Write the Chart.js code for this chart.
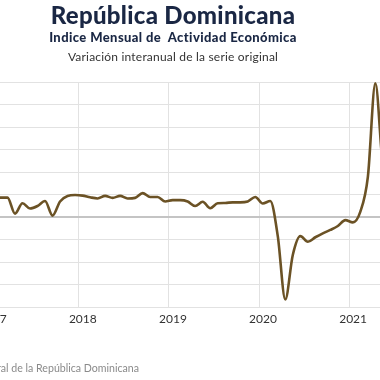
<!DOCTYPE html>
<html><head><meta charset="utf-8">
<script src="https://cdn.jsdelivr.net/npm/chart.js@4.4.1/dist/chart.umd.min.js"></script>
<style>
html,body{margin:0;padding:0;width:380px;height:380px;overflow:hidden;background:#fff;}
#wrap{position:absolute;left:-40px;top:0;width:460px;height:380px;}
.t{position:absolute;left:0;width:346px;text-align:center;white-space:nowrap;color:#1a2744;font-family:Lato,"Open Sans",sans-serif;}
#t1{top:0px;font-size:24px;font-weight:900;letter-spacing:0.3px;}
#t2{top:29px;font-size:13px;font-weight:900;letter-spacing:0.4px;}
#t3{top:49px;font-size:12px;color:#333;letter-spacing:0.2px;}
#src{position:absolute;right:241px;top:362px;font-size:10.6px;color:#8a8a8a;font-family:Lato,sans-serif;white-space:nowrap;}
</style></head><body>
<div id="wrap"><canvas id="c" width="460" height="380"></canvas></div>
<div class="t" id="t1">República Dominicana</div>
<div class="t" id="t2">Indice Mensual de&nbsp; Actividad Económica</div>
<div class="t" id="t3">Variación interanual de la serie original</div>
<div id="src">Fuente: Banco Central de la República Dominicana</div>
<script>
const startYear = 2017;
const months = ["Ene","Feb","Mar","Abr","May","Jun","Jul","Ago","Sep","Oct","Nov","Dic"];
const yearTicks = [2017, 2018, 2019, 2020, 2021];
const v2017 = [5.7, 6.9, 6.9, 1.2, 4.9, 3.0, 3.9, 5.7, 0.5, 5.5, 7.5, 7.8];
const v2018 = [7.6, 7.0, 6.6, 7.5, 6.8, 7.5, 6.6, 6.8, 8.5, 7.1, 7.1, 5.5];
const v2019 = [6.0, 6.0, 5.5, 3.9, 5.4, 3.1, 4.9, 5.0, 5.2, 5.2, 5.5, 7.1];
const v2020 = [4.8, 5.7, -6.8, -29.3, -13.5, -6.8, -8.8, -7.2, -5.8, -4.6, -3.2, -1.1];
const v2021 = [-1.9, 1.9, 14.3, 47.5, 18.5, 13.0];

const series = [v2017, v2018, v2019, v2020, v2021];
const points = [];
series.forEach((arr, yi) => arr.forEach((v, mi) => {
  points.push({x: startYear + yi + (mi + 0.5) / 12, y: v, label: months[mi] + " " + (startYear + yi)});
}));

new Chart(document.getElementById('c'), {
  type: 'line',
  data: { datasets: [{ data: points, borderColor: '#6b5225', borderWidth: 2.6, pointRadius: 0, fill: false, cubicInterpolationMode: 'monotone' }] },
  options: {
    responsive: false, animation: false,
    layout: { padding: { top: 82, left: 0, right: 0, bottom: 0 } },
    plugins: { legend: { display: false }, tooltip: { enabled: false } },
    scales: {
      x: {
        type: 'linear', min: 2016.681, max: 2021.787,
        afterBuildTicks: s => { s.ticks = yearTicks.map(v => ({ value: v })); },
        afterFit: s => { s.height = 73; },
        ticks: { callback: v => String(v), color: '#333', font: { family: 'Lato', size: 12 }, padding: 5, labelOffset: 4, maxRotation: 0, autoSkip: false },
        grid: { color: '#e2e2e2', lineWidth: 1, drawTicks: false },
        border: { display: false }
      },
      y: {
        min: -32, max: 48,
        afterFit: s => { s.width = 0; },
        ticks: { stepSize: 8, display: false },
        grid: { drawTicks: false, color: c => c.tick.value === 0 ? '#c4c4c4' : '#e2e2e2', lineWidth: c => c.tick.value === 0 ? 2 : 1 },
        border: { display: false }
      }
    }
  }
});
</script>
</body></html>
